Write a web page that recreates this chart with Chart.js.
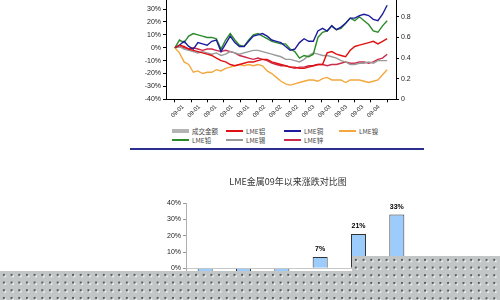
<!DOCTYPE html>
<html>
<head>
<meta charset="utf-8">
<script src="https://cdn.jsdelivr.net/npm/chart.js@4/dist/chart.umd.min.js"></script>
<style>
html, body { margin: 0; padding: 0; background: #fff; width: 500px; height: 300px; overflow: hidden; position: relative; }
#lineBox { position: absolute; left: 126px; top: -10px; width: 310px; height: 135px; }
#barBox { position: absolute; left: 160px; top: 170px; width: 280px; height: 151px; }
#legend { position: absolute; left: 172px; top: 126px; display: grid; grid-template-columns: 54px 58px 55px 60px;
  font: 6.5px "Noto Sans CJK SC", sans-serif; color: #444; }
.item { display: flex; align-items: center; height: 9px; white-space: nowrap; }
.sw { width: 17px; margin-right: 3px; }
#rule { position: absolute; left: 130px; top: 148px; width: 294px; height: 2px; background: #2b2f8f; }
.mask { position: absolute; background-color: #c2c6c6;
  background-image: radial-gradient(circle, #333 0.6px, transparent 0.9px), radial-gradient(circle, #fafafa 0.6px, transparent 0.9px);
  background-size: 7.7px 7.7px; background-position: 0 0, 1.5px 1.5px; }
</style>
</head>
<body>
<div id="lineBox"><canvas id="lineChart"></canvas></div>
<div id="legend"></div>
<div id="rule"></div>
<div id="barBox"><canvas id="barChart"></canvas></div>
<div class="mask" style="left:0;top:271px;width:500px;height:29px"></div>
<div class="mask" style="left:352px;top:256px;width:148px;height:44px"></div>
<script>
// x轴标签
const xLabels = ['09-01','09-01','09-01','09-01','09-01','09-02','09-02','09-02','09-03','09-03','09-03','09-03','09-04'];

// 各金属涨跌幅 (%)，按交易日
const lmeAl = [0,2,1,-1,-2,-3,-4,-5,-6,-8,-10,-11,-13,-14,-13,-12,-11,-11,-10,-9,-9,-11,-12,-13,-14,-15,-15,-16,-16,-15,-14,-13,-13,-4,-3,-5,-6,-7,-2,1,2,3,4,5,3,5,7];
const lmeCu = [0,2,5,1,-1,4,3,2,5,6,-3,3,9,4,1,1,5,9,10,11,9,6,5,4,1,-2,-1,4,7,5,5,13,15,13,17,14,16,19,23,23,25,26,25,22,21,26,33];
const lmeNi = [0,-4,-11,-13,-19,-18,-20,-19,-19,-17,-18,-16,-15,-14,-13,-14,-13,-14,-13,-14,-18,-20,-23,-26,-28,-29,-28,-27,-26,-25,-25,-26,-24,-23,-25,-25,-25,-27,-25,-25,-25,-26,-27,-26,-25,-21,-17];
const lmePb = [0,6,4,9,11,10,9,8,8,7,-1,6,11,6,2,1,6,10,11,9,7,5,4,3,3,-1,-3,-8,-6,-7,-5,8,12,13,17,14,15,19,23,21,24,21,18,13,12,17,21];
const lmeSn = [0,1,-1,-2,-3,-4,-3,-4,-5,-4,-6,-5,-3,-4,-5,-4,-3,-2,-2,-3,-4,-5,-6,-7,-9,-9,-10,-11,-9,-6,-4,-5,-6,-6,-7,-8,-10,-11,-13,-13,-12,-12,-11,-12,-10,-10,-10];
const lmeZn = [0,1,0,-1,0,-1,-2,-1,-1,-2,-3,-2,-3,-4,-6,-7,-8,-9,-8,-9,-10,-12,-13,-14,-14,-15,-16,-15,-15,-14,-14,-13,-13,-14,-13,-13,-12,-11,-12,-12,-11,-11,-12,-11,-9,-8,-5];
const turnover = [];

// 09年以来涨跌对比
const barCats = ['LME镍','LME锡','LME锌','LME铝','LME铅','LME铜'];
const barVals = [-17,-10,-5,7,21,33];

Chart.defaults.font.family = '"Liberation Sans", Arial, sans-serif';
Chart.defaults.font.size = 7;
Chart.defaults.color = '#222';
Chart.defaults.animation = false;

const toPts = arr => arr.map((v, i) => ({x: i, y: v}));
const lastDay = lmeCu.length - 1;

function line(label, arr, color) {
    return {type: 'line', label: label, data: toPts(arr), borderColor: color, backgroundColor: color,
        borderWidth: 1.4, pointRadius: 0, tension: 0, yAxisID: 'y'};
}

const lineChart = new Chart(document.getElementById('lineChart'), {
    data: {
        datasets: [
            {type: 'bar', label: '成交金额', data: turnover, backgroundColor: '#b4b4b4', borderColor: '#b4b4b4', yAxisID: 'y1'},
            line('LME铝', lmeAl, '#e01010'),
            line('LME铜', lmeCu, '#1c1c9c'),
            line('LME镍', lmeNi, '#f2a83c'),
            line('LME铅', lmePb, '#2a8a2a'),
            line('LME锡', lmeSn, '#9a9a9a'),
            line('LME锌', lmeZn, '#cc2a4a')
        ]
    },
    options: {
        responsive: true,
        maintainAspectRatio: false,
        layout: {padding: {top: 6, left: 0, right: 0, bottom: 0}},
        plugins: {legend: {display: false}, tooltip: {enabled: false}},
        scales: {
            x: {
                type: 'linear', min: 0, max: lastDay,
                afterBuildTicks: s => { s.ticks = xLabels.map((l, k) => ({value: (k + 0.5) * lastDay / xLabels.length})); },
                afterFit: s => { s.height = 25.7; },
                ticks: {maxRotation: 45, minRotation: 45, padding: 1, font: {size: 6}, callback: (v, i) => xLabels[i]},
                grid: {drawOnChartArea: false, offset: true, tickLength: 3, color: '#000'},
                border: {color: '#000', width: 1}
            },
            y: {
                position: 'left', min: -40, max: 40,
                afterFit: s => { s.width = 40; },
                ticks: {stepSize: 10, padding: 2, callback: v => v + '%'},
                grid: {drawOnChartArea: false, tickLength: 3, color: '#000'},
                border: {color: '#000', width: 1}
            },
            y1: {
                position: 'right', min: 0, max: 1,
                afterFit: s => { s.width = 40; },
                ticks: {stepSize: 0.1, padding: 2, callback: v => v === 0 ? '0' : v.toFixed(1)},
                grid: {drawOnChartArea: false, tickLength: 3, color: '#000'},
                border: {color: '#000', width: 1}
            }
        }
    }
});

// 图例
const legendEl = document.getElementById('legend');
lineChart.data.datasets.forEach(ds => {
    const item = document.createElement('div');
    item.className = 'item';
    const sw = document.createElement('span');
    sw.className = 'sw';
    sw.style.height = ds.type === 'bar' ? '4px' : '2px';
    sw.style.background = ds.borderColor;
    item.appendChild(sw);
    item.appendChild(document.createTextNode(ds.label));
    legendEl.appendChild(item);
});

const barLabels = {
    id: 'barLabels',
    afterDatasetsDraw(chart) {
        const ctx = chart.ctx;
        const meta = chart.getDatasetMeta(0);
        ctx.save();
        ctx.font = 'bold 7px "Liberation Sans", Arial, sans-serif';
        ctx.fillStyle = '#000';
        ctx.textAlign = 'center';
        meta.data.forEach((bar, i) => {
            const v = chart.data.datasets[0].data[i];
            if (v >= 0) {
                ctx.textBaseline = 'bottom';
                ctx.fillText(v + '%', bar.x, bar.y - 4);
            } else {
                ctx.textBaseline = 'top';
                ctx.fillText(v + '%', bar.x, bar.y + 4);
            }
        });
        ctx.restore();
    }
};

new Chart(document.getElementById('barChart'), {
    type: 'bar',
    data: {
        labels: barCats,
        datasets: [{
            data: barVals,
            backgroundColor: '#9cccfc',
            borderColor: '#333',
            borderWidth: 1,
            barPercentage: 0.8,
            categoryPercentage: 0.49
        }]
    },
    options: {
        responsive: true,
        maintainAspectRatio: false,
        layout: {padding: {top: 0, left: 0, right: 24, bottom: 0}},
        plugins: {
            legend: {display: false},
            tooltip: {enabled: false},
            title: {display: true, text: 'LME金属09年以来涨跌对比图', color: '#333',
                font: {family: '"Noto Sans CJK SC", sans-serif', size: 9, weight: 'normal', lineHeight: 1.2},
                padding: {top: 6, bottom: 16.2}}
        },
        scales: {
            x: {
                afterFit: s => { s.height = 20; },
                grid: {display: false},
                border: {display: false},
                ticks: {font: {size: 7}}
            },
            y: {
                min: -20, max: 40,
                afterFit: s => { s.width = 26; },
                ticks: {stepSize: 10, padding: 2, callback: v => v + '%'},
                grid: {color: c => c.tick && c.tick.value === 0 ? '#c8c8c8' : 'rgba(0,0,0,0)', tickColor: '#999', tickLength: 3},
                border: {color: '#b0b0b0', width: 1}
            }
        }
    },
    plugins: [barLabels]
});
</script>
</body>
</html>
